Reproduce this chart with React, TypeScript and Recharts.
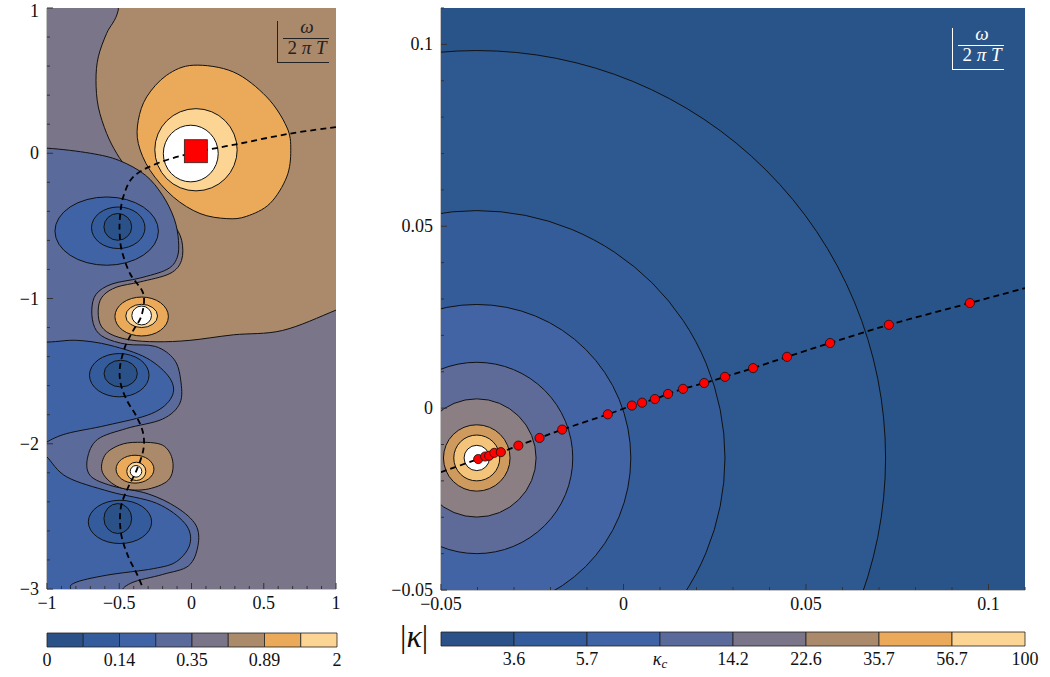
import React from "react";
import {
  Bar,
  BarChart,
  ComposedChart,
  ReferenceLine,
  Scatter,
  XAxis,
  YAxis
} from "recharts";

// palette of the 8 contour levels (low -> high)
const LEVEL_COLORS = ["#2a5288", "#345c9c", "#4063a6", "#5a6a9b", "#7a7589", "#ab8a6c", "#eaaa5a", "#fcd595"];

// ---------- left panel (omega / 2 pi T plane) ----------
const LEFT_X_TICKS = [-1, -0.9, -0.8, -0.7, -0.6, -0.5, -0.4, -0.3, -0.2, -0.1, 0, 0.1, 0.2, 0.3, 0.4, 0.5, 0.6, 0.7, 0.8, 0.9, 1];
const LEFT_X_MAJOR = [-1, -0.5, 0, 0.5, 1];
const LEFT_Y_TICKS = [-3, -2.8, -2.6, -2.4, -2.2, -2, -1.8, -1.6, -1.4, -1.2, -1, -0.8, -0.6, -0.4, -0.2, 0, 0.2, 0.4, 0.6, 0.8, 1];
const LEFT_Y_MAJOR = [-3, -2, -1, 0, 1];

// contour outlines: [x, y]
const brownRegion = [
  [-0.48, 1.3], [-0.507, 0.985], [-0.587, 0.826], [-0.645, 0.663], [-0.661, 0.503], [-0.645, 0.319],
  [-0.587, 0.136], [-0.518, 0.0], [-0.437, -0.117], [-0.334, -0.243], [-0.218, -0.37], [-0.126, -0.484],
  [-0.068, -0.599], [-0.069, -0.737], [-0.149, -0.828], [-0.356, -0.886], [-0.516, -0.921], [-0.609, -0.978],
  [-0.644, -1.059], [-0.633, -1.174], [-0.564, -1.243], [-0.426, -1.285], [-0.239, -1.298], [-0.01, -1.288],
  [0.29, -1.25], [0.63, -1.22], [1.0, -1.08], [1.3, -0.95], [1.3, 1.3]
];
const blueGrayRegion = [
  [-1.3, 0.04], [-1.0, 0.035], [-0.7, 0.0], [-0.5, -0.05], [-0.32, -0.15], [-0.2, -0.29], [-0.12, -0.45],
  [-0.09, -0.6], [-0.1, -0.72], [-0.17, -0.8], [-0.36, -0.86], [-0.55, -0.9], [-0.66, -0.97], [-0.69, -1.08],
  [-0.67, -1.2], [-0.6, -1.27], [-0.45, -1.315], [-0.25, -1.33], [-0.12, -1.42], [-0.075, -1.56],
  [-0.08, -1.72], [-0.2, -1.83], [-0.45, -1.895], [-0.65, -1.97], [-0.72, -2.1], [-0.7, -2.22],
  [-0.55, -2.29], [-0.3, -2.345], [-0.1, -2.44], [0.03, -2.56], [0.045, -2.7], [-0.02, -2.84],
  [-0.2, -2.9], [-0.42, -2.96], [-0.5, -3.05], [-0.55, -3.3], [-1.3, -3.3]
];
const lobeTwoThree = [
  [-1.3, -1.3], [-1.0, -1.3], [-0.794, -1.288], [-0.564, -1.322], [-0.31, -1.41], [-0.149, -1.55],
  [-0.137, -1.678], [-0.275, -1.792], [-0.587, -1.873], [-0.864, -1.93], [-1.0, -1.988], [-1.06, -2.04],
  [-1.0, -2.091], [-0.862, -2.229], [-0.564, -2.33], [-0.241, -2.41], [-0.045, -2.549], [-0.01, -2.687],
  [-0.102, -2.81], [-0.264, -2.86], [-0.587, -2.905], [-0.818, -2.962], [-0.88, -3.05], [-1.3, -3.3]
];
const poleOneOrange = [
  [0.012, 0.606], [0.289, 0.56], [0.52, 0.388], [0.659, 0.181], [0.687, 0.021], [0.659, -0.163],
  [0.543, -0.346], [0.382, -0.434], [0.244, -0.45], [0.059, -0.415], [-0.126, -0.301], [-0.287, -0.117],
  [-0.368, 0.067], [-0.368, 0.227], [-0.31, 0.388], [-0.172, 0.537]
];
const poleThreeBrown = [
  [-0.374, -1.99], [-0.2, -2.01], [-0.13, -2.12], [-0.16, -2.25], [-0.32, -2.315], [-0.5, -2.3],
  [-0.615, -2.2], [-0.6, -2.08], [-0.5, -2.01]
];

// ellipses: [centre x, centre y, half width, half height]
const leftEllipses: { e: number[]; level: number }[] = [
  { e: [-0.587, -0.536, 0.358, 0.235], level: 2 },
  { e: [-0.507, -0.513, 0.185, 0.143], level: 1 },
  { e: [-0.51, -0.507, 0.096, 0.092], level: 0 },
  { e: [-0.5, -1.528, 0.206, 0.149], level: 1 },
  { e: [-0.49, -1.517, 0.115, 0.092], level: 0 },
  { e: [-0.495, -2.538, 0.219, 0.149], level: 1 },
  { e: [-0.51, -2.515, 0.096, 0.103], level: 0 },
  { e: [0.031, 0.024, 0.285, 0.283], level: 7 },
  { e: [-0.005, -0.002, 0.19, 0.195], level: 8 },
  { e: [-0.345, -1.124, 0.185, 0.134], level: 6 },
  { e: [-0.345, -1.12, 0.11, 0.08], level: 7 },
  { e: [-0.345, -1.117, 0.068, 0.065], level: 8 },
  { e: [-0.391, -2.175, 0.131, 0.096], level: 6 },
  { e: [-0.382, -2.19, 0.066, 0.063], level: 7 },
  { e: [-0.384, -2.19, 0.04, 0.04], level: 8 }
];

const leftPath = [
  [1.0, 0.18], [0.68, 0.135], [0.336, 0.067], [0, 0], [-0.24, -0.071], [-0.403, -0.163], [-0.472, -0.3],
  [-0.495, -0.438], [-0.497, -0.551], [-0.483, -0.668], [-0.426, -0.828], [-0.334, -0.966], [-0.345, -1.115],
  [-0.403, -1.219], [-0.46, -1.333], [-0.495, -1.471], [-0.49, -1.586], [-0.448, -1.7], [-0.379, -1.815],
  [-0.334, -1.93], [-0.334, -2.045], [-0.379, -2.18], [-0.437, -2.297], [-0.483, -2.412], [-0.495, -2.515],
  [-0.483, -2.642], [-0.437, -2.779], [-0.379, -2.894], [-0.334, -2.998]
];
const redSquare = [[0.03, 0.014]];

// ---------- right panel (kappa plane) ----------
const RIGHT_X_TICKS = [-0.05, -0.04, -0.03, -0.02, -0.01, 0, 0.01, 0.02, 0.03, 0.04, 0.05, 0.06, 0.07, 0.08, 0.09, 0.1, 0.11];
const RIGHT_X_MAJOR = [-0.05, 0, 0.05, 0.1];
const RIGHT_Y_TICKS = RIGHT_X_TICKS;
const RIGHT_Y_MAJOR = [-0.05, 0, 0.05, 0.1];

// concentric rings around the kappa pole: radius, fill colour
const ringCentre = [-0.0402, -0.0137];
const ringRadii = [0.112, 0.068, 0.0422, 0.0263, 0.01625, 0.00912, 0.0063, 0.00348];
const ringColors = ["#2e5890", "#345c98", "#4264a5", "#5e6a98", "#8b7f84", "#cf9a5d", "#f4c47a", "#ffffff"];

const kappaDots = [
  [-0.0398, -0.014], [-0.0379, -0.0133], [-0.0368, -0.0131], [-0.0354, -0.0123], [-0.0336, -0.0121],
  [-0.0288, -0.0103], [-0.023, -0.0082], [-0.0168, -0.0059], [-0.0043, -0.0017], [0.0023, 0.0007],
  [0.0051, 0.0015], [0.0086, 0.0025], [0.0122, 0.0039], [0.0163, 0.0053], [0.0221, 0.0069],
  [0.0278, 0.0086], [0.0355, 0.011], [0.0448, 0.0141], [0.0566, 0.0179], [0.0727, 0.0229], [0.0949, 0.0289]
];
const kappaLine = [[-0.05, -0.0176], ...kappaDots, [0.11, 0.033]];

// ---------- colour bars ----------
const LEFT_BAR_LABELS = ["0", "", "0.14", "", "0.35", "", "0.89", "", "2"];
const RIGHT_BAR_LABELS = ["", "3.6", "5.7", "κc", "14.2", "22.6", "35.7", "56.7", "100"];

const FONT = "'Liberation Serif', 'Times New Roman', 'DejaVu Serif', serif";
const FS = 18;

const toPts = (arr: number[][]) => arr.map(([x, y]) => ({ x, y }));

// closed Catmull-Rom path through pixel points
function smoothClosed(pts: { x: number; y: number }[]) {
  const n = pts.length;
  let d = `M${pts[0].x},${pts[0].y}`;
  for (let i = 0; i < n; i++) {
    const p0 = pts[(i - 1 + n) % n];
    const p1 = pts[i];
    const p2 = pts[(i + 1) % n];
    const p3 = pts[(i + 2) % n];
    const c1x = p1.x + (p2.x - p0.x) / 6;
    const c1y = p1.y + (p2.y - p0.y) / 6;
    const c2x = p2.x - (p3.x - p1.x) / 6;
    const c2y = p2.y - (p3.y - p1.y) / 6;
    d += ` C${c1x},${c1y} ${c2x},${c2y} ${p2.x},${p2.y}`;
  }
  return d + "Z";
}
function smoothOpen(pts: { x: number; y: number }[]) {
  const n = pts.length;
  let d = `M${pts[0].x},${pts[0].y}`;
  for (let i = 0; i < n - 1; i++) {
    const p0 = pts[Math.max(i - 1, 0)];
    const p1 = pts[i];
    const p2 = pts[i + 1];
    const p3 = pts[Math.min(i + 2, n - 1)];
    d += ` C${p1.x + (p2.x - p0.x) / 6},${p1.y + (p2.y - p0.y) / 6} ${p2.x - (p3.x - p1.x) / 6},${p2.y - (p3.y - p1.y) / 6} ${p2.x},${p2.y}`;
  }
  return d;
}

const noDot = () => <g />;

function regionLine(fill: string) {
  return (p: any) => <path d={smoothClosed(p.points)} fill={fill} stroke="#111" strokeWidth={1} />;
}
// ellipse from its four extreme points (left, right, bottom, top)
function ellipseLine(fill: string) {
  return (p: any) => {
    const [l, r, b, t] = p.points;
    const cx = (l.x + r.x) / 2;
    const cy = (b.y + t.y) / 2;
    return <ellipse cx={cx} cy={cy} rx={Math.abs(r.x - l.x) / 2} ry={Math.abs(b.y - t.y) / 2} fill={fill} stroke="#111" strokeWidth={1} />;
  };
}
const ellipsePts = ([cx, cy, rx, ry]: number[]) => [
  { x: cx - rx, y: cy }, { x: cx + rx, y: cy }, { x: cx, y: cy - ry }, { x: cx, y: cy + ry }
];

function makeTick(side: "bottom" | "left" | "top" | "right", major: number[], len: number, label: boolean, fmt: (v: number) => string) {
  return (props: any) => {
    const { x, y, payload } = props;
    const v = payload.value;
    const isMajor = major.some((m) => Math.abs(m - v) < 1e-9);
    const l = isMajor ? len : len / 2;
    if (side === "bottom") {
      const ay = y - 4;
      return (
        <g>
          <line x1={x} x2={x} y1={ay} y2={ay - l} stroke="#333" strokeWidth={1} />
          {label && isMajor && (
            <text x={x} y={ay + 20} textAnchor="middle" fontFamily={FONT} fontSize={FS} fill="#111">{fmt(v)}</text>
          )}
        </g>
      );
    }
    if (side === "top") {
      const ay = y + 4;
      return <line x1={x} x2={x} y1={ay} y2={ay + l} stroke="#333" strokeWidth={1} />;
    }
    if (side === "left") {
      const ax = x + 4;
      return (
        <g>
          <line x1={ax} x2={ax + l} y1={y} y2={y} stroke="#333" strokeWidth={1} />
          {label && isMajor && (
            <text x={ax - 8} y={Math.max(y + 6, 17)} textAnchor="end" fontFamily={FONT} fontSize={FS} fill="#111">{fmt(v)}</text>
          )}
        </g>
      );
    }
    const ax = x - 4;
    return <line x1={ax} x2={ax - l} y1={y} y2={y} stroke="#333" strokeWidth={1} />;
  };
}

const fmtNum = (v: number) => (v < 0 ? "\u2212" + String(Math.abs(v)) : String(v));

function FracLabel({ left, top, color }: { left: number; top: number; color: string }) {
  return (
    <div style={{ position: "absolute", left, top, width: 56, height: 48, color, fontFamily: FONT }}>
      <div style={{ position: "absolute", left: 0, top: 4, width: 1, height: 42, background: color }} />
      <div style={{ position: "absolute", left: 0, top: 45, width: 52, height: 1, background: color }} />
      <div style={{ position: "absolute", left: 2, top: -1, width: 56, textAlign: "center", fontStyle: "italic", fontSize: 19 }}>ω</div>
      <div style={{ position: "absolute", left: 6, top: 21, width: 46, height: 1, background: color }} />
      <div style={{ position: "absolute", left: 2, top: 20, width: 56, textAlign: "center", fontSize: 19, whiteSpace: "nowrap" }}>
        2 <i>π</i> <i>T</i>
      </div>
    </div>
  );
}

function ColorBar({ labels, left, top, width, marginLeft, marginRight }: any) {
  const row = [{ name: "bar", c0: 1, c1: 1, c2: 1, c3: 1, c4: 1, c5: 1, c6: 1, c7: 1 }];
  const tick = (props: any) => {
    const { x, y, payload } = props;
    const t = labels[payload.value];
    if (!t) return <g />;
    if (t === "κc") {
      return (
        <text x={x} y={y + 19} textAnchor="middle" fontFamily={FONT} fontSize={FS} fill="#111">
          <tspan fontStyle="italic">κ</tspan>
          <tspan fontStyle="italic" fontSize={13} dy={3}>c</tspan>
        </text>
      );
    }
    return <text x={x} y={y + 19} textAnchor="middle" fontFamily={FONT} fontSize={FS} fill="#111">{t}</text>;
  };
  return (
    <div style={{ position: "absolute", left, top }}>
      <BarChart width={width} height={50} data={row} layout="vertical" barCategoryGap={0}
        margin={{ top: 8, right: marginRight, bottom: 0, left: marginLeft }}>
        <XAxis type="number" domain={[0, 8]} ticks={[0, 1, 2, 3, 4, 5, 6, 7, 8]} axisLine={false}
          tickLine={false} tickSize={0} tickMargin={0} height={28} tick={tick} interval={0} />
        <YAxis type="category" dataKey="name" hide width={0} />
        {LEVEL_COLORS.map((c, i) => (
          <Bar key={i} dataKey={`c${i}`} stackId="s" fill={c} stroke="#222" strokeWidth={0.8} isAnimationActive={false} />
        ))}
      </BarChart>
    </div>
  );
}

function LeftPanel() {
  const levels = [...LEVEL_COLORS, "#ffffff"];
  return (
    <div style={{ position: "absolute", left: 0, top: 0 }}>
      <ComposedChart width={350} height={625} margin={{ top: 8, right: 14, bottom: 6, left: 7 }}>
        <XAxis xAxisId="b" type="number" dataKey="x" domain={[-1, 1]} allowDataOverflow ticks={LEFT_X_TICKS}
          interval={0} axisLine={{ stroke: "#888" }} tickLine={false} tickSize={0} tickMargin={4} height={30}
          tick={makeTick("bottom", LEFT_X_MAJOR, 6, true, fmtNum)} />
        <XAxis xAxisId="t" orientation="top" type="number" domain={[-1, 1]} allowDataOverflow ticks={LEFT_X_TICKS}
          interval={0} axisLine={{ stroke: "#888" }} tickLine={false} tickSize={0} tickMargin={4} height={0}
          tick={makeTick("top", LEFT_X_MAJOR, 6, false, fmtNum)} />
        <YAxis yAxisId="l" type="number" dataKey="y" domain={[-3, 1]} allowDataOverflow ticks={LEFT_Y_TICKS}
          interval={0} axisLine={{ stroke: "#888" }} tickLine={false} tickSize={0} tickMargin={4} width={40}
          tick={makeTick("left", LEFT_Y_MAJOR, 6, true, fmtNum)} />
        <YAxis yAxisId="r" orientation="right" type="number" domain={[-3, 1]} allowDataOverflow ticks={LEFT_Y_TICKS}
          interval={0} axisLine={{ stroke: "#888" }} tickLine={false} tickSize={0} tickMargin={4} width={0}
          tick={makeTick("right", LEFT_Y_MAJOR, 6, false, fmtNum)} />
        <Scatter xAxisId="b" yAxisId="l" data={toPts([[-1.3, -3.3], [1.3, -3.3], [1.3, 1.3], [-1.3, 1.3]])}
          shape={noDot} line={(p: any) => <path d={"M" + p.points.map((q: any) => `${q.x},${q.y}`).join("L") + "Z"} fill={LEVEL_COLORS[4]} />}
          isAnimationActive={false} />
        <Scatter xAxisId="b" yAxisId="l" data={toPts(brownRegion)} shape={noDot} line={regionLine(LEVEL_COLORS[5])} isAnimationActive={false} />
        <Scatter xAxisId="b" yAxisId="l" data={toPts(blueGrayRegion)} shape={noDot} line={regionLine(LEVEL_COLORS[3])} isAnimationActive={false} />
        <Scatter xAxisId="b" yAxisId="l" data={toPts(lobeTwoThree)} shape={noDot} line={regionLine(LEVEL_COLORS[2])} isAnimationActive={false} />
        <Scatter xAxisId="b" yAxisId="l" data={toPts(poleThreeBrown)} shape={noDot} line={regionLine(LEVEL_COLORS[5])} isAnimationActive={false} />
        <Scatter xAxisId="b" yAxisId="l" data={toPts(poleOneOrange)} shape={noDot} line={regionLine(LEVEL_COLORS[6])} isAnimationActive={false} />
        {leftEllipses.map((el, i) => (
          <Scatter key={i} xAxisId="b" yAxisId="l" data={ellipsePts(el.e)} shape={noDot}
            line={ellipseLine(levels[el.level])} isAnimationActive={false} />
        ))}
        <ReferenceLine xAxisId="b" yAxisId="l" x={0} stroke="#222" strokeWidth={1} />
        <ReferenceLine xAxisId="b" yAxisId="l" y={0} stroke="#222" strokeWidth={1} />
        <Scatter xAxisId="b" yAxisId="l" data={toPts(leftPath)} shape={noDot}
          line={(p: any) => <path d={smoothOpen(p.points)} fill="none" stroke="#000" strokeWidth={1.8} strokeDasharray="6 4" />}
          isAnimationActive={false} />
        <Scatter xAxisId="b" yAxisId="l" data={toPts(redSquare)} isAnimationActive={false}
          shape={(p: any) => <rect x={p.cx - 11.5} y={p.cy - 11.5} width={23} height={23} fill="#ff0000" stroke="#222" strokeWidth={0.8} />} />
      </ComposedChart>
    </div>
  );
}

function RightPanel() {
  const rings = ringRadii.map((r, i) => ({ e: [ringCentre[0], ringCentre[1], r, r], fill: ringColors[i] }));
  return (
    <div style={{ position: "absolute", left: 380, top: 0 }}>
      <ComposedChart width={660} height={626} margin={{ top: 8, right: 15, bottom: 6, left: 6 }}>
        <XAxis xAxisId="b" type="number" dataKey="x" domain={[-0.05, 0.11]} allowDataOverflow ticks={RIGHT_X_TICKS}
          interval={0} axisLine={{ stroke: "#888" }} tickLine={false} tickSize={0} tickMargin={4} height={30}
          tick={makeTick("bottom", RIGHT_X_MAJOR, 6, true, fmtNum)} />
        <XAxis xAxisId="t" orientation="top" type="number" domain={[-0.05, 0.11]} allowDataOverflow ticks={RIGHT_X_TICKS}
          interval={0} axisLine={{ stroke: "#888" }} tickLine={false} tickSize={0} tickMargin={4} height={0}
          tick={makeTick("top", RIGHT_X_MAJOR, 6, false, fmtNum)} />
        <YAxis yAxisId="l" type="number" dataKey="y" domain={[-0.05, 0.11]} allowDataOverflow ticks={RIGHT_Y_TICKS}
          interval={0} axisLine={{ stroke: "#888" }} tickLine={false} tickSize={0} tickMargin={4} width={55}
          tick={makeTick("left", RIGHT_Y_MAJOR, 6, true, fmtNum)} />
        <YAxis yAxisId="r" orientation="right" type="number" domain={[-0.05, 0.11]} allowDataOverflow ticks={RIGHT_Y_TICKS}
          interval={0} axisLine={{ stroke: "#888" }} tickLine={false} tickSize={0} tickMargin={4} width={0}
          tick={makeTick("right", RIGHT_Y_MAJOR, 6, false, fmtNum)} />
        <Scatter xAxisId="b" yAxisId="l" data={toPts([[-0.06, -0.06], [0.12, -0.06], [0.12, 0.12], [-0.06, 0.12]])}
          shape={noDot} line={(p: any) => <path d={"M" + p.points.map((q: any) => `${q.x},${q.y}`).join("L") + "Z"} fill="#28548a" />}
          isAnimationActive={false} />
        {rings.map((rg, i) => (
          <Scatter key={i} xAxisId="b" yAxisId="l" data={ellipsePts(rg.e)} shape={noDot}
            line={ellipseLine(rg.fill)} isAnimationActive={false} />
        ))}
        <ReferenceLine xAxisId="b" yAxisId="l" x={0} stroke="#111" strokeWidth={1} />
        <ReferenceLine xAxisId="b" yAxisId="l" y={0} stroke="#111" strokeWidth={1} />
        <Scatter xAxisId="b" yAxisId="l" data={toPts(kappaLine)} shape={noDot}
          line={(p: any) => <path d={smoothOpen(p.points)} fill="none" stroke="#000" strokeWidth={1.8} strokeDasharray="6 4" />}
          isAnimationActive={false} />
        <Scatter xAxisId="b" yAxisId="l" data={toPts(kappaDots)} isAnimationActive={false}
          shape={(p: any) => <circle cx={p.cx} cy={p.cy} r={4.6} fill="#ff0000" stroke="#111" strokeWidth={0.8} />} />
      </ComposedChart>
    </div>
  );
}

export default function App() {
  return (
    <div style={{ position: "absolute", left: 0, top: 0, width: 1050, height: 677, background: "#fff", overflow: "hidden" }}>
      <LeftPanel />
      <RightPanel />
      <FracLabel left={277} top={17} color="#222" />
      <FracLabel left={952} top={24} color="#fff" />
      <ColorBar labels={LEFT_BAR_LABELS} left={0} top={625} width={351} marginLeft={47} marginRight={14} />
      <ColorBar labels={RIGHT_BAR_LABELS} left={380} top={624} width={660} marginLeft={61} marginRight={15} />
      <div style={{ position: "absolute", left: 400, top: 618, fontFamily: FONT, fontSize: 32, color: "#111", fontStyle: "italic" }}>
        <span style={{ fontStyle: "normal" }}>|</span>κ<span style={{ fontStyle: "normal" }}>|</span>
      </div>
    </div>
  );
}
